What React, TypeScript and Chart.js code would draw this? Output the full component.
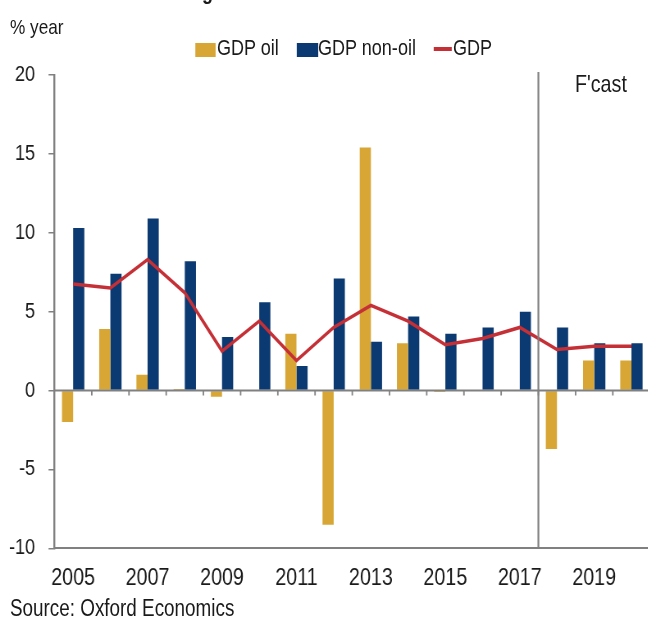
import React, { useEffect, useRef } from "react";
import { Chart, registerables } from "chart.js";

Chart.register(...registerables);

const years = ["2005", "2006", "2007", "2008", "2009", "2010", "2011", "2012", "2013", "2014", "2015", "2016", "2017", "2018", "2019", "2020"];
const gdpOil = [-2.0, 3.9, 1.0, 0.1, -0.4, 0.05, 3.6, -8.5, 15.4, 3.0, -0.1, -0.05, -0.05, -3.7, 1.9, 1.9];
const gdpNonOil = [10.3, 7.4, 10.9, 8.2, 3.4, 5.6, 1.55, 7.1, 3.1, 4.7, 3.6, 4.0, 5.0, 4.0, 3.0, 3.0];
const gdpTotal = [6.75, 6.5, 8.3, 6.2, 2.5, 4.4, 1.9, 4.0, 5.4, 4.4, 2.9, 3.3, 4.0, 2.6, 2.8, 2.8];
const yMin = -10;
const yMax = 20;
const yStep = 5;
const forecastStartIndex = 13;

// The reference uses a narrow typeface; emulate it by condensing the whole drawing horizontally.
const S = 0.82;
const X = (v: number) => v / S;

const FONT = "'Liberation Sans', Arial, Helvetica, sans-serif";
const GOLD = "#D8A634";
const NAVY = "#0B3A72";
const RED = "#C52F36";
const GREY = "#808080";
const TEXT = "#1a1a1a";

const overlayPlugin = {
  id: "overlay",
  afterDatasetsDraw(chart: any) {
    const { ctx, chartArea, scales } = chart;
    const x = scales.x;
    const y = scales.y;
    const y0 = y.getPixelForValue(0);
    ctx.save();
    ctx.strokeStyle = GREY;
    ctx.lineWidth = 2;
    ctx.beginPath();
    ctx.moveTo(chartArea.left, y0);
    ctx.lineTo(chartArea.right, y0);
    ctx.stroke();
    ctx.lineWidth = 1.8;
    ctx.beginPath();
    for (let i = 1; i < years.length; i++) {
      const px = (x.getPixelForValue(i - 1) + x.getPixelForValue(i)) / 2;
      ctx.moveTo(px, y0);
      ctx.lineTo(px, y0 + 5);
    }
    ctx.stroke();
    const fx = (x.getPixelForValue(forecastStartIndex - 1) + x.getPixelForValue(forecastStartIndex)) / 2;
    ctx.lineWidth = 2.2;
    ctx.beginPath();
    ctx.moveTo(fx, chartArea.top - 3);
    ctx.lineTo(fx, chartArea.bottom);
    ctx.stroke();
    ctx.restore();
  },
};

export default function App() {
  const canvasRef = useRef<HTMLCanvasElement | null>(null);

  useEffect(() => {
    if (!canvasRef.current) return;
    const chart = new Chart(canvasRef.current, {
      type: "bar",
      data: {
        labels: years,
        datasets: [
          {
            type: "line",
            label: "GDP",
            data: gdpTotal,
            borderColor: RED,
            backgroundColor: RED,
            borderWidth: 3.5,
            pointRadius: 0,
            tension: 0,
            order: 0,
          } as any,
          {
            label: "GDP oil",
            data: gdpOil,
            backgroundColor: GOLD,
            categoryPercentage: 0.6,
            barPercentage: 1.0,
            order: 1,
          },
          {
            label: "GDP non-oil",
            data: gdpNonOil,
            backgroundColor: NAVY,
            categoryPercentage: 0.6,
            barPercentage: 1.0,
            order: 1,
          },
        ],
      },
      options: {
        responsive: false,
        maintainAspectRatio: false,
        animation: false,
        layout: { padding: { top: 75, right: 12.3, left: 10.9, bottom: 12.9 } },
        plugins: {
          legend: { display: false },
          tooltip: { enabled: false },
          title: { display: false },
        },
        scales: {
          x: {
            offset: true,
            grid: { display: false, drawTicks: false },
            border: { display: true, color: GREY, width: 2 },
            ticks: {
              autoSkip: false,
              maxRotation: 0,
              minRotation: 0,
              padding: 16,
              color: TEXT,
              font: { family: FONT, size: 24 },
              callback: (_v: any, i: number) => (i % 2 === 0 ? years[i] : ""),
            },
          },
          y: {
            min: yMin,
            max: yMax,
            afterFit: (scale: any) => {
              scale.width = 55.6;
            },
            ticks: {
              stepSize: yStep,
              padding: 16.5,
              color: TEXT,
              font: { family: FONT, size: 22 },
            },
            grid: { drawOnChartArea: false, drawTicks: true, tickLength: 7.3, color: GREY, lineWidth: 1.5 },
            border: { display: true, color: GREY, width: 2.4 },
          },
        },
      },
      plugins: [overlayPlugin],
    });
    return () => chart.destroy();
  }, []);

  const txt: React.CSSProperties = {
    position: "absolute",
    fontFamily: FONT,
    fontSize: 22,
    color: TEXT,
    lineHeight: "26px",
    whiteSpace: "nowrap",
  };

  return (
    <div style={{ position: "fixed", left: 0, top: 0, width: 648, height: 622, overflow: "hidden", background: "#fff" }}>
      <div style={{ position: "absolute", left: 0, top: 0, width: X(660), height: 622, transform: `scaleX(${S})`, transformOrigin: "0 0" }}>
        <canvas ref={canvasRef} width={Math.round(X(660))} height={622} style={{ position: "absolute", left: 0, top: 0, display: "block" }} />
        <div style={{ ...txt, left: X(115), top: -21, fontWeight: "bold" }}>Real GDP growth</div>
        <div style={{ ...txt, left: X(10), top: 14, fontSize: 21 }}>% year</div>
        <div style={{ position: "absolute", left: X(195), top: 43, width: X(21), height: 14, background: GOLD }} />
        <div style={{ ...txt, left: X(217), top: 35 }}>GDP oil</div>
        <div style={{ position: "absolute", left: X(297), top: 43, width: X(21), height: 14, background: NAVY }} />
        <div style={{ ...txt, left: X(318), top: 35 }}>GDP non-oil</div>
        <div style={{ position: "absolute", left: X(434), top: 47, width: X(18), height: 4, background: RED }} />
        <div style={{ ...txt, left: X(453), top: 35 }}>GDP</div>
        <div style={{ ...txt, left: X(575), top: 71, fontSize: 24 }}>F'cast</div>
        <div style={{ ...txt, left: X(10), top: 595, fontSize: 23 }}>Source: Oxford Economics</div>
      </div>
    </div>
  );
}
